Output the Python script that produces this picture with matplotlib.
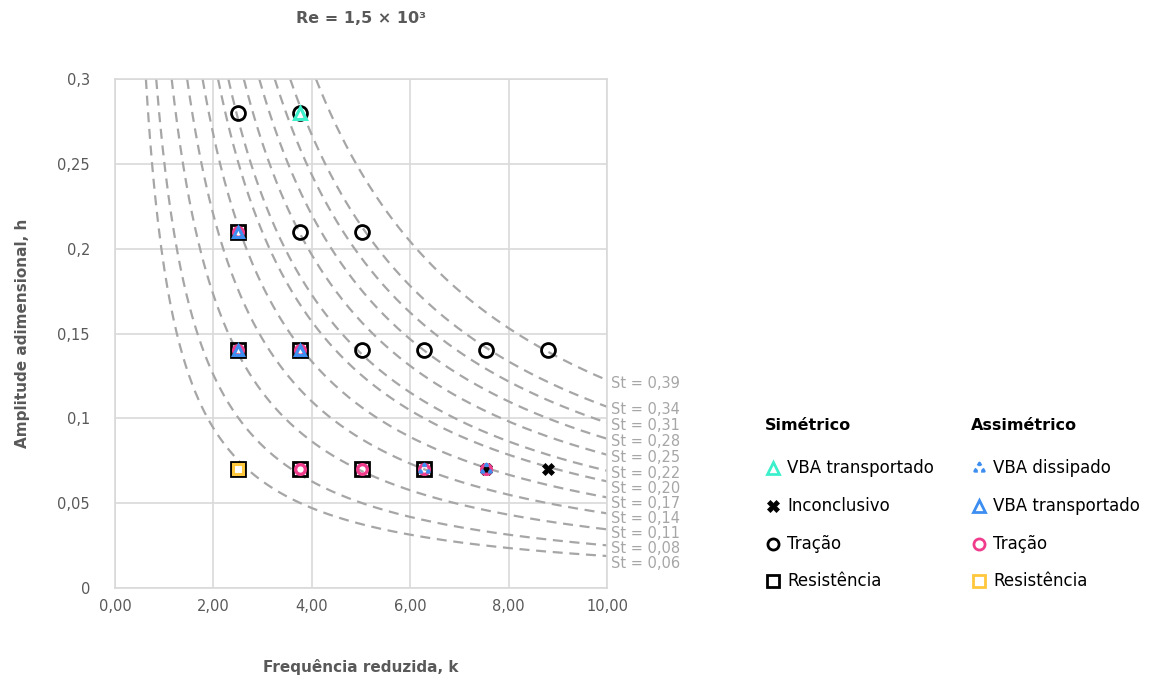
import numpy as np
import matplotlib
matplotlib.use("Agg")
import matplotlib.pyplot as plt
from matplotlib.path import Path
from matplotlib.lines import Line2D

# Linhas de Strouhal constante (h = pi*St/k)
st_values = [0.06, 0.08, 0.11, 0.14, 0.17, 0.20, 0.22, 0.25, 0.28, 0.31, 0.34, 0.39]
st_labels = ["St = 0,06", "St = 0,08", "St = 0,11", "St = 0,14", "St = 0,17", "St = 0,20",
             "St = 0,22", "St = 0,25", "St = 0,28", "St = 0,31", "St = 0,34", "St = 0,39"]

# Simétrico
sim_vba_k = [3.77]
sim_vba_h = [0.28]
sim_inc_k = [7.54, 8.80]
sim_inc_h = [0.07, 0.07]
sim_tracao_k = [2.51, 3.77, 3.77, 5.03, 5.03, 6.28, 7.54, 8.80]
sim_tracao_h = [0.28, 0.28, 0.21, 0.21, 0.14, 0.14, 0.14, 0.14]
sim_res_k = [2.51, 2.51, 3.77, 2.51, 3.77, 5.03, 6.28]
sim_res_h = [0.21, 0.14, 0.14, 0.07, 0.07, 0.07, 0.07]

# Assimétrico
asm_diss_k = [6.28, 7.54]
asm_diss_h = [0.07, 0.07]
asm_vba_k = [2.51, 2.51, 3.77]
asm_vba_h = [0.21, 0.14, 0.14]
asm_tracao_k = [2.51, 2.51, 3.77, 3.77, 5.03, 6.28, 7.54]
asm_tracao_h = [0.21, 0.14, 0.14, 0.07, 0.07, 0.07, 0.07]
asm_res_k = [2.51]
asm_res_h = [0.07]

GRAY = "#595959"
CURVE = "#a6a6a6"
GRID = "#d9d9d9"
CYAN = "#3cf0cc"
BLUE = "#3d8ef0"
PINK = "#f03c8c"
YELLOW = "#ffc83c"

# marcador "triângulo tracejado" para VBA dissipado
tri = np.array([[0, 1], [-0.866, -0.5], [0.866, -0.5]])
verts, codes = [], []
for i in range(3):
    v, a, b = tri[i], tri[(i + 1) % 3], tri[(i + 2) % 3]
    verts += [v + 0.33 * (a - v), v, v + 0.33 * (b - v)]
    codes += [Path.MOVETO, Path.LINETO, Path.LINETO]
dotted_tri = Path(verts, codes)

fig = plt.figure(figsize=(11.51, 6.8), dpi=100)
ax = fig.add_axes([0.0999, 0.1353, 0.4275, 0.7485])
ax.set_xlim(0, 10)
ax.set_ylim(0, 0.3)

ax.set_xticks(np.arange(0, 10.01, 2))
ax.set_xticklabels(["0,00", "2,00", "4,00", "6,00", "8,00", "10,00"])
ax.set_yticks([0, 0.05, 0.1, 0.15, 0.2, 0.25, 0.3])
ax.set_yticklabels(["0", "0,05", "0,1", "0,15", "0,2", "0,25", "0,3"])
ax.tick_params(axis="both", length=0, labelsize=10.5, labelcolor=GRAY)
ax.tick_params(axis="y", pad=18)
ax.tick_params(axis="x", pad=8)
ax.grid(True, color=GRID, linewidth=1.2)
ax.set_axisbelow(True)
for s in ax.spines.values():
    s.set_color(GRID)
    s.set_linewidth(1.2)

# curvas de St
for st in st_values:
    k = np.linspace(np.pi * st / 0.3, 10, 300)
    ax.plot(k, np.pi * st / k, color=CURVE, lw=1.6, dashes=(4.5, 3), zorder=1)

# rótulos das curvas, empilhados para não se sobreporem
fig.canvas.draw()
prev = None
for st, lab in sorted(zip(st_values, st_labels), reverse=True):
    y_disp = ax.transData.transform((10, np.pi * st / 10))[1] - 3
    if prev is not None and y_disp > prev - 15:
        y_disp = prev - 15
    prev = y_disp
    y_data = ax.transData.inverted().transform((0, y_disp))[1]
    ax.annotate(lab, xy=(10, y_data), xytext=(3, 0), textcoords="offset points",
                va="center", ha="left", fontsize=10.5, color=CURVE, annotation_clip=False)

# séries
ax.plot(sim_res_k, sim_res_h, ls="none", marker="s", ms=10, mfc="none", mec="black", mew=2, zorder=3)
ax.plot(sim_tracao_k, sim_tracao_h, ls="none", marker="o", ms=10, mfc="none", mec="black", mew=2, zorder=3)
ax.plot(sim_inc_k, sim_inc_h, ls="none", marker="X", ms=9, mfc="black", mec="black", mew=0.5, zorder=3)
ax.plot(sim_vba_k, sim_vba_h, ls="none", marker="^", ms=9, mfc="none", mec=CYAN, mew=2.2, zorder=4)
ax.plot(asm_res_k, asm_res_h, ls="none", marker="s", ms=7, mfc="none", mec=YELLOW, mew=2.2, zorder=4)
ax.plot(asm_tracao_k, asm_tracao_h, ls="none", marker="o", ms=7, mfc="none", mec=PINK, mew=2.4, zorder=5)
ax.plot(asm_vba_k, asm_vba_h, ls="none", marker="^", ms=7, mfc="none", mec=BLUE, mew=2.2, zorder=6)
ax.plot(asm_diss_k, asm_diss_h, ls="none", marker=dotted_tri, ms=8, mfc="none", mec=BLUE, mew=2.0, zorder=6)

ax.set_title("Re = 1,5 × 10³", fontsize=11.5, fontweight="bold", color=GRAY, pad=40)
ax.set_xlabel("Frequência reduzida, k", fontsize=11, fontweight="bold", color=GRAY, labelpad=32)
ax.set_ylabel("Amplitude adimensional, h", fontsize=11, fontweight="bold", color=GRAY, labelpad=20)

# legenda em duas colunas
W, H = 1151, 680
legend_cols = [
    ("Simétrico", 765, [
        (dict(marker="^", ms=8, mfc="none", mec=CYAN, mew=2.0), "VBA transportado"),
        (dict(marker="X", ms=8, mfc="black", mec="black", mew=0.5), "Inconclusivo"),
        (dict(marker="o", ms=8, mfc="none", mec="black", mew=2.0), "Tração"),
        (dict(marker="s", ms=8, mfc="none", mec="black", mew=2.0), "Resistência"),
    ]),
    ("Assimétrico", 971, [
        (dict(marker=dotted_tri, ms=8, mfc="none", mec=BLUE, mew=2.0), "VBA dissipado"),
        (dict(marker="^", ms=8, mfc="none", mec=BLUE, mew=2.0), "VBA transportado"),
        (dict(marker="o", ms=8, mfc="none", mec=PINK, mew=2.0), "Tração"),
        (dict(marker="s", ms=8, mfc="none", mec=YELLOW, mew=2.0), "Resistência"),
    ]),
]
rows_y = [468, 506, 544, 581]
for header, x0, items in legend_cols:
    fig.text(x0 / W, 1 - 425 / H, header, fontsize=11.5, fontweight="bold",
             color="black", va="center", ha="left")
    for (style, lab), y in zip(items, rows_y):
        fig.add_artist(Line2D([(x0 + 8) / W], [1 - y / H], ls="none", transform=fig.transFigure, **style))
        fig.text((x0 + 22) / W, 1 - y / H, lab, fontsize=12, color="black", va="center", ha="left")

fig.savefig("out.png", dpi=100)
